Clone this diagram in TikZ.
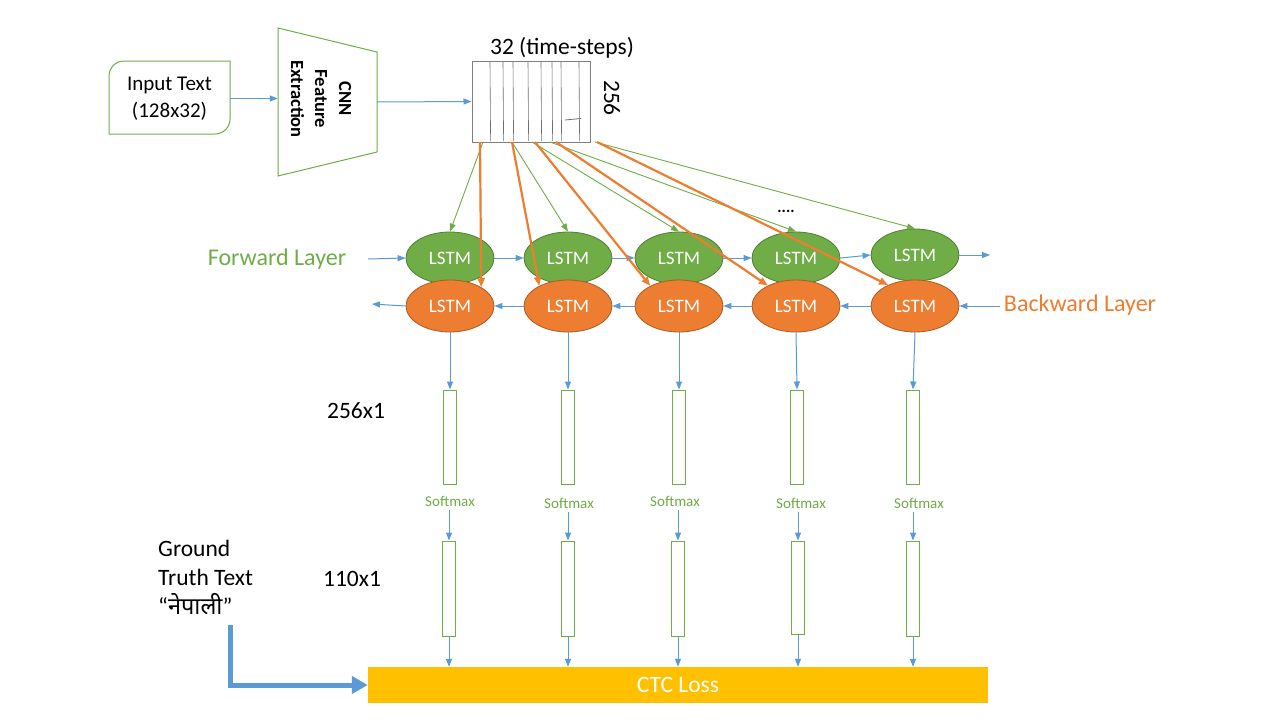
\documentclass[tikz,border=0pt]{standalone}
\usepackage{fontspec}
\setmainfont{Carlito}
\newfontfamily\deva[Script=Devanagari]{Noto Sans}
\usetikzlibrary{arrows.meta,shapes.geometric}
\definecolor{cgreen}{HTML}{70AD47}
\definecolor{cgreenD}{HTML}{507E32}
\definecolor{corange}{HTML}{ED7D31}
\definecolor{corangeD}{HTML}{AE5A21}
\definecolor{cblue}{HTML}{5B9BD5}
\definecolor{cgold}{HTML}{FFC000}
\definecolor{cgray}{HTML}{7F7F7F}
\definecolor{cdark}{HTML}{6F6F6F}
\begin{document}
\begin{tikzpicture}[x=1pt,y=-1pt,
  fwd/.style={ellipse, draw=cgreenD, fill=cgreen, line width=0.8pt, minimum width=88pt, minimum height=52pt, inner sep=0pt, text=white, font=\fontsize{19}{22}\selectfont},
  bwd/.style={ellipse, draw=corangeD, fill=corange, line width=0.8pt, minimum width=88pt, minimum height=52pt, inner sep=0pt, text=white, font=\fontsize{19}{22}\selectfont},
  barr/.style={draw=cblue, line width=1pt, -{Triangle[length=8pt,width=6pt]}},
  garr/.style={draw=cgreen, line width=0.9pt, -{Triangle[length=8pt,width=6pt]}},
  oarr/.style={draw=corange, line width=2.2pt, -{Triangle[length=9pt,width=7pt]}},
  colbox/.style={draw=cgreen, line width=1pt, minimum width=13pt, minimum height=94pt, inner sep=0pt},
  lbl/.style={font=\fontsize{23.5}{28}\selectfont, inner sep=0pt},
  smx/.style={text=cgreen, font=\fontsize{15}{18}\selectfont, inner sep=0pt}
]
\useasboundingbox (0,0) rectangle (1280,720);
\fill[white] (0,0) rectangle (1280,720);

% input text box
\draw[cgreen, line width=1pt] (124,61) -- (230,61) -- (230,119) arc[start angle=0,end angle=90,radius=15] -- (109,134) -- (109,76) arc[start angle=180,end angle=270,radius=15] -- cycle;
\node[minimum width=121pt, minimum height=73pt, inner sep=0pt, align=center, font=\fontsize{21}{27}\selectfont] (inp) at (169.5,98.5) {Input Text\\(128x32)};

% CNN trapezoid
\draw[cgreen, line width=1pt] (278,28) -- (377,52) -- (377,152) -- (278,176) -- cycle;
\node[minimum width=99pt, minimum height=148pt, inner sep=0pt] (cnn) at (327.5,102) {};
\node[rotate=-90, align=center, font=\bfseries\fontsize{18.5}{24}\selectfont] (cnnt) at (321,99) {CNN\\Feature\\Extraction};

% feature map
\node[draw=cgray, line width=1pt, minimum width=118pt, minimum height=81pt, inner sep=0pt] (fm) at (531,101.5) {};
\foreach \xx in {490,503,513,528,541,552,561,579}
  \draw[cdark, line width=0.6pt] (\xx,62) -- (\xx+0.6,141);
\draw[cdark, line width=0.8pt] (565,120) -- (581,118.5);
\node[lbl] (ts) at (562,48) {32 (time-steps)};
\node[lbl, rotate=-90] (d256) at (612,98) {256};

\draw[barr] (inp.east) -- (inp.east -| cnn.west);
\draw[barr] (cnn.east) -- (fm.west);

% LSTM nodes
\node[fwd] (g1) at (450,258) {LSTM};
\node[fwd] (g2) at (568,258) {LSTM};
\node[fwd] (g3) at (679,258) {LSTM};
\node[fwd] (g4) at (796,258) {LSTM};
\node[fwd] (g5) at (915,255) {LSTM};
\node[bwd] (o1) at (450,306) {LSTM};
\node[bwd] (o2) at (568,306) {LSTM};
\node[bwd] (o3) at (679,306) {LSTM};
\node[bwd] (o4) at (796,306) {LSTM};
\node[bwd] (o5) at (915,306) {LSTM};

\node[text=cgreen, font=\fontsize{24}{28}\selectfont, inner sep=0pt] (fl) at (277,259) {Forward Layer};
\node[text=corange, font=\fontsize{24}{28}\selectfont, inner sep=0pt] (bl) at (1080,305) {Backward Layer};
\node[font=\bfseries\fontsize{16}{18}\selectfont, inner sep=0pt] (dots) at (786,211) {....};

% forward / backward chain
\coordinate (fin) at (368,259);
\coordinate (fout) at (990,255);
\coordinate (bin) at (1000,306);
\coordinate (bout) at (372,304);
\draw[barr] (fin) -- (g1.west);
\draw[barr] (g1.east) -- (g2.west);
\draw[barr] (g2.east) -- (g3.west);
\draw[barr] (g3.east) -- (g4.west);
\draw[barr] (g4.east) -- (g5.west);
\draw[barr] (g5.east) -- (fout);
\draw[barr] (bin) -- (o5.east);
\draw[barr] (o5.west) -- (o4.east);
\draw[barr] (o4.west) -- (o3.east);
\draw[barr] (o3.west) -- (o2.east);
\draw[barr] (o2.west) -- (o1.east);
\draw[barr] (o1.west) -- (bout);

% connections from feature map
\coordinate (gs1) at (483,142);
\coordinate (gs2) at (512,142);
\coordinate (gs3) at (532,142);
\coordinate (gs4) at (550,142);
\coordinate (gs5) at (595,142);
\coordinate (os1) at (480,142);
\coordinate (os2) at (512,142);
\coordinate (os3) at (535,142);
\coordinate (os4) at (556,142);
\coordinate (os5) at (597,142);
\draw[garr] (gs1) -- (g1.north);
\draw[garr] (gs2) -- (g2.north);
\draw[garr] (gs3) -- (g3.north);
\draw[garr] (gs4) -- (g4.north);
\draw[garr] (gs5) -- (g5.north);
\draw[oarr] (os1) -- (o1.31);
\draw[oarr] (os2) -- (o2.145);
\draw[oarr] (os3) -- (o3.145);
\draw[oarr] (os4) -- (o4.144);
\draw[oarr] (os5) -- (o5.142);

% 256x1 boxes
\node[colbox] (c1) at (450,437) {};
\node[colbox] (c2) at (568,437) {};
\node[colbox] (c3) at (679,437) {};
\node[colbox] (c4) at (797,437) {};
\node[colbox] (c5) at (913,437) {};
\foreach \i in {1,...,5} \draw[barr] (o\i.south) -- (c\i.north);
\node[lbl] (l256) at (356,411) {256x1};

% softmax labels
\node[smx] (sm1) at (450,501) {Softmax};
\node[smx] (sm2) at (569,503) {Softmax};
\node[smx] (sm3) at (675,501) {Softmax};
\node[smx] (sm4) at (801,503) {Softmax};
\node[smx] (sm5) at (919,503) {Softmax};

% 110x1 boxes
\node[colbox, minimum height=95pt] (d1) at (449,588.5) {};
\node[colbox, minimum height=95pt] (d2) at (568,588.5) {};
\node[colbox, minimum height=95pt] (d3) at (678,588.5) {};
\node[colbox, minimum height=93pt] (d4) at (798,587.5) {};
\node[colbox, minimum height=95pt] (d5) at (913,588.5) {};
\foreach \i in {1,...,5} \draw[barr] (sm\i.south -| d\i.north) ++(0,4) -- (d\i.north);
\node[lbl] (l110) at (352,579) {110x1};

% CTC loss
\node[fill=cgold, minimum width=620pt, minimum height=36pt, inner sep=0pt, text=white, font=\fontsize{23.5}{26}\selectfont] (ctc) at (678,685) {CTC Loss};
\foreach \i in {1,...,5} \draw[barr] (d\i.south) -- (d\i.south |- ctc.north);

% ground truth
\node[anchor=north west, align=left, inner sep=0pt, font=\fontsize{23.5}{29}\selectfont] (gt) at (158,540) {Ground\\Truth Text\\“{\deva नेपाली}”};
\coordinate (gtc) at (230,625);
\draw[cblue, line width=5pt, -{Triangle[length=16pt,width=17pt]}] (gtc) |- (ctc.west);
\end{tikzpicture}
\end{document}
